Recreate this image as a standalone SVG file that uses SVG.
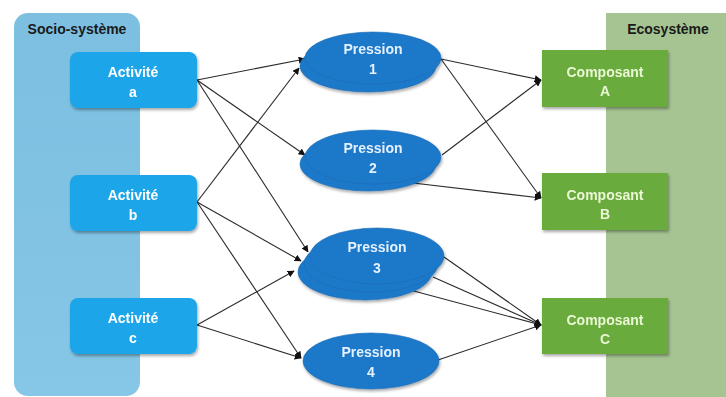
<svg xmlns="http://www.w3.org/2000/svg" width="726" height="397" viewBox="0 0 726 397">
<defs>
<linearGradient id="gSocio" x1="0" y1="0" x2="0" y2="1">
<stop offset="0" stop-color="#7cbfe0"/>
<stop offset="1" stop-color="#86c6e6"/>
</linearGradient>
<marker id="arr" viewBox="0 0 10 10" refX="9" refY="5" markerWidth="7" markerHeight="7" markerUnits="userSpaceOnUse" orient="auto">
<path d="M0,0 L10,5 L0,10 z" fill="#111"/>
</marker>
<filter id="sh" x="-10%" y="-10%" width="125%" height="135%">
<feGaussianBlur in="SourceAlpha" stdDeviation="1.5"/>
<feOffset dx="1" dy="2" result="b"/>
<feComponentTransfer><feFuncA type="linear" slope="0.35"/></feComponentTransfer>
<feMerge><feMergeNode/><feMergeNode in="SourceGraphic"/></feMerge>
</filter>
</defs>
<style>
text{font-family:"Liberation Sans",Arial,sans-serif;font-weight:bold;font-size:14px;text-anchor:middle}
.title{fill:#1a1a1a}
.act{fill:#1ba5e8}
.actT{fill:#ffffff}
.pr{fill:#1f78c8;stroke:#1a6bb5;stroke-width:0.6}
.prT{fill:#e3f1ff}
.co{fill:#6aab3d}
.coT{fill:#eaf7d5}
.ln{stroke:#2a2a2a;stroke-width:1.1;fill:none}
</style>
<rect width="726" height="397" fill="#ffffff"/>
<g id="socio-systeme">
<rect x="14" y="13" width="126" height="383" rx="14" fill="url(#gSocio)"/>
<text class="title" x="77" y="34">Socio-système</text>
</g>
<g id="ecosysteme">
<rect x="606" y="13" width="130" height="400" fill="#a5c491"/>
<text class="title" x="668" y="34">Ecosystème</text>
</g>
<g id="connectors">
<line class="ln" x1="197" y1="80" x2="305" y2="59" marker-end="url(#arr)"/>
<line class="ln" x1="197" y1="80" x2="305" y2="155" marker-end="url(#arr)"/>
<line class="ln" x1="197" y1="80" x2="308" y2="252" marker-end="url(#arr)"/>
<line class="ln" x1="197" y1="202" x2="299" y2="68" marker-end="url(#arr)"/>
<line class="ln" x1="197" y1="202" x2="301" y2="261" marker-end="url(#arr)"/>
<line class="ln" x1="197" y1="202" x2="301" y2="358" marker-end="url(#arr)"/>
<line class="ln" x1="197" y1="325" x2="294" y2="271" marker-end="url(#arr)"/>
<line class="ln" x1="197" y1="325" x2="301" y2="358" marker-end="url(#arr)"/>
<line class="ln" x1="441" y1="59" x2="541" y2="80" marker-end="url(#arr)"/>
<line class="ln" x1="441" y1="59" x2="541" y2="198" marker-end="url(#arr)"/>
<line class="ln" x1="442" y1="155" x2="541" y2="80" marker-end="url(#arr)"/>
<line class="ln" x1="413" y1="183" x2="541" y2="198" marker-end="url(#arr)"/>
<line class="ln" x1="444" y1="257" x2="541" y2="325" marker-end="url(#arr)"/>
<line class="ln" x1="433" y1="277" x2="541" y2="325" marker-end="url(#arr)"/>
<line class="ln" x1="410" y1="290" x2="541" y2="325" marker-end="url(#arr)"/>
<line class="ln" x1="438" y1="360" x2="541" y2="325" marker-end="url(#arr)"/>
</g>
<g id="activite-a" filter="url(#sh)">
<rect class="act" x="70" y="52" width="127" height="56" rx="8"/>
<text class="actT" x="133" y="77">Activité</text>
<text class="actT" x="133" y="97">a</text>
</g>
<g id="activite-b" filter="url(#sh)">
<rect class="act" x="70" y="175" width="127" height="56" rx="8"/>
<text class="actT" x="133" y="200">Activité</text>
<text class="actT" x="133" y="220">b</text>
</g>
<g id="activite-c" filter="url(#sh)">
<rect class="act" x="70" y="298" width="127" height="56" rx="8"/>
<text class="actT" x="133" y="323">Activité</text>
<text class="actT" x="133" y="343">c</text>
</g>
<g id="pression-1" filter="url(#sh)">
<ellipse class="pr" cx="368" cy="66" rx="68" ry="26"/>
<ellipse class="pr" cx="373" cy="58" rx="68" ry="26"/>
<text class="prT" x="373" y="54">Pression</text>
<text class="prT" x="373" y="74">1</text>
</g>
<g id="pression-2" filter="url(#sh)">
<ellipse class="pr" cx="368" cy="164" rx="68" ry="27"/>
<ellipse class="pr" cx="373" cy="157" rx="68" ry="27"/>
<text class="prT" x="373" y="153">Pression</text>
<text class="prT" x="373" y="173">2</text>
</g>
<g id="pression-3" filter="url(#sh)">
<ellipse class="pr" cx="365" cy="272" rx="67" ry="28"/>
<ellipse class="pr" cx="371" cy="264" rx="67" ry="28"/>
<ellipse class="pr" cx="377" cy="256" rx="67" ry="28"/>
<text class="prT" x="377" y="252">Pression</text>
<text class="prT" x="377" y="273">3</text>
</g>
<g id="pression-4" filter="url(#sh)">
<ellipse class="pr" cx="371" cy="361" rx="68" ry="28"/>
<text class="prT" x="371" y="357">Pression</text>
<text class="prT" x="371" y="377">4</text>
</g>
<g id="composant-a" filter="url(#sh)">
<rect class="co" x="542" y="50" width="126" height="57"/>
<text class="coT" x="605" y="77">Composant</text>
<text class="coT" x="605" y="96">A</text>
</g>
<g id="composant-b" filter="url(#sh)">
<rect class="co" x="542" y="173" width="126" height="57"/>
<text class="coT" x="605" y="200">Composant</text>
<text class="coT" x="605" y="219">B</text>
</g>
<g id="composant-c" filter="url(#sh)">
<rect class="co" x="542" y="298" width="126" height="56"/>
<text class="coT" x="605" y="325">Composant</text>
<text class="coT" x="605" y="344">C</text>
</g>
</svg>
